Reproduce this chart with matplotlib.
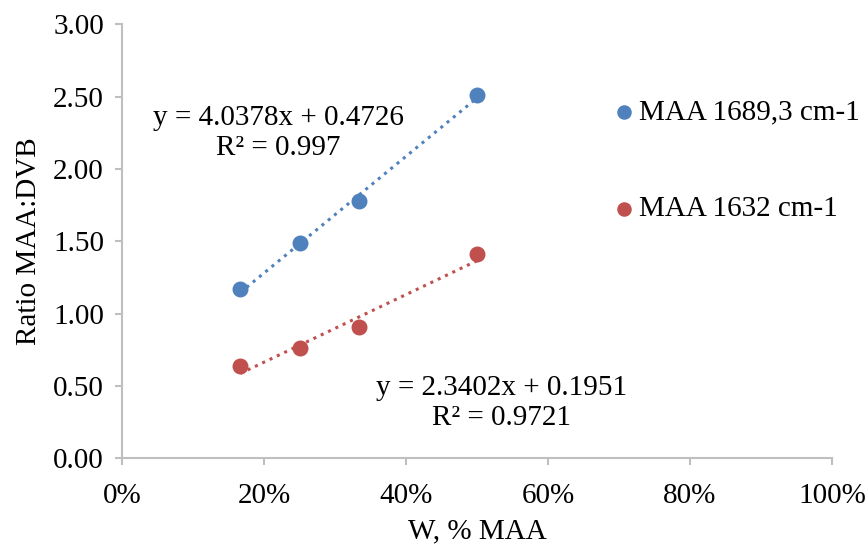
import numpy as np
import matplotlib.pyplot as plt

plt.rcParams["font.family"] = ["Liberation Serif", "DejaVu Serif"]

# data
w_maa = [1 / 6, 0.25, 1 / 3, 0.5]
ratio_1689 = [1.17, 1.49, 1.78, 2.51]
ratio_1632 = [0.64, 0.76, 0.91, 1.41]

# trendline coefficients shown on the chart
fit_1689 = (4.0378, 0.4726, 0.997)
fit_1632 = (2.3402, 0.1951, 0.9721)

blue = "#4F81BD"
red = "#C0504D"
grey = "#BFBFBF"
fs = 21

fig = plt.figure(figsize=(8.68, 5.48), dpi=100)
ax = fig.add_axes([0.1406, 0.1642, 0.8179, 0.7911])

ax.scatter(w_maa, ratio_1689, s=110, color=blue, zorder=3, label="MAA 1689,3 cm-1")
ax.scatter(w_maa, ratio_1632, s=110, color=red, zorder=3, label="MAA 1632 cm-1")

xs = np.array([min(w_maa), max(w_maa)])
ax.plot(xs, fit_1689[0] * xs + fit_1689[1], ls=":", lw=2.2, color=blue, zorder=2)
ax.plot(xs, fit_1632[0] * xs + fit_1632[1], ls=":", lw=2.2, color=red, zorder=2)

ax.text(0.22, 2.25, "y = 4.0378x + 0.4726\nR² = 0.997", ha="center", va="center",
        fontsize=fs, linespacing=1.2)
ax.text(0.534, 0.38, "y = 2.3402x + 0.1951\nR² = 0.9721", ha="center", va="center",
        fontsize=fs, linespacing=1.2)

ax.set_xlim(0, 1)
ax.set_ylim(0, 3)
ax.set_xticks(np.arange(0, 1.01, 0.2))
ax.set_xticklabels([f"{int(round(v * 100))}%" for v in np.arange(0, 1.01, 0.2)])
ax.set_yticks(np.arange(0, 3.01, 0.5))
ax.set_yticklabels([f"{v:.2f}" for v in np.arange(0, 3.01, 0.5)])

for side in ["top", "right"]:
    ax.spines[side].set_visible(False)
for side in ["left", "bottom"]:
    ax.spines[side].set_color(grey)
    ax.spines[side].set_linewidth(1.5)
ax.tick_params(axis="both", colors=grey, length=5, width=1.5, labelsize=fs, labelcolor="black")
ax.tick_params(axis="x", pad=13)
ax.tick_params(axis="y", pad=8)

ax.set_xlabel("W, % MAA", fontsize=fs, labelpad=7)
ax.set_ylabel("Ratio MAA:DVB", fontsize=fs, labelpad=8)

fig.legend(loc="upper left", bbox_to_anchor=(0.692, 0.84), frameon=False, fontsize=fs,
           handlelength=0.8, handletextpad=0.12, labelspacing=2.4, markerscale=0.9,
           borderaxespad=0)

fig.savefig("out.png", dpi=100)
